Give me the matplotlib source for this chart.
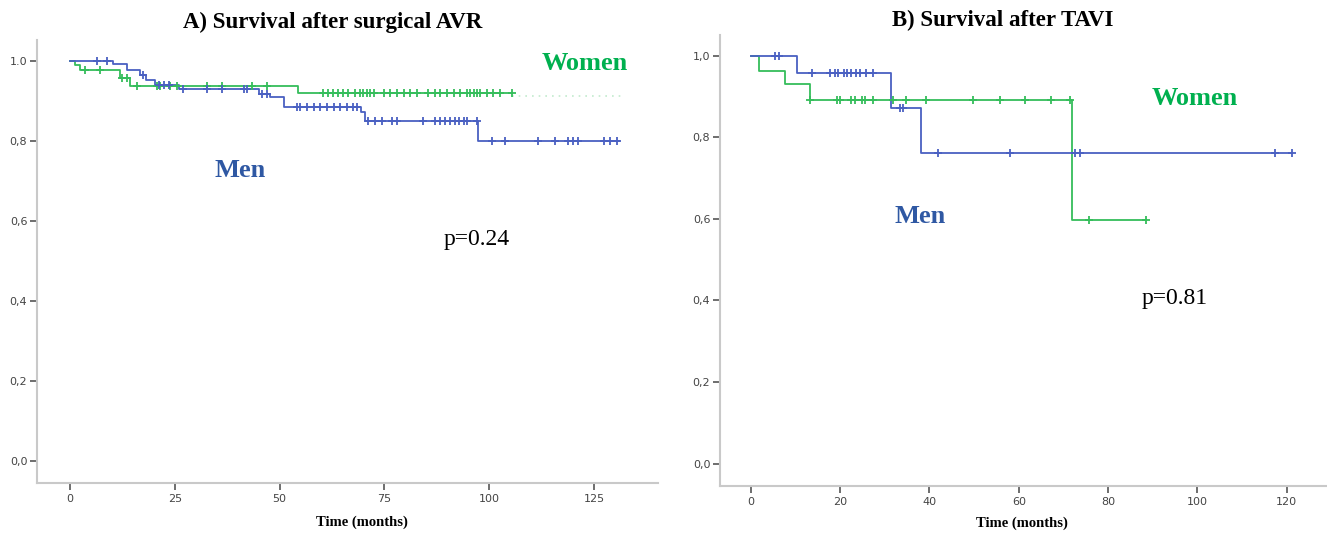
import numpy as np
import matplotlib
matplotlib.use("Agg")
import matplotlib.pyplot as plt

# ── Data ──────────────────────────────────────────────────────────────────────
# Panel A: surgical AVR (step times in months, survival after each step)
avr_men_steps = [0, 10.2, 13.6, 16.7, 18.1, 20.3, 26.0, 45.0, 47.7, 51.0, 69.5, 70.3, 97.4]
avr_men_surv = [1.0, 0.992, 0.977, 0.965, 0.952, 0.940, 0.930, 0.918, 0.910, 0.885, 0.872, 0.850, 0.800]
avr_men_end = 131
avr_men_censor = [6.4, 8.7, 17.5, 21.1, 22.3, 23.5, 27.0, 32.6, 36.2, 41.4, 42.2, 45.7,
                  46.9, 54.1, 54.9, 56.5, 58.1, 59.7, 61.3, 62.9, 64.4, 66.0, 67.6, 68.5,
                  71.2, 72.8, 74.4, 76.8, 78.0, 84.3, 87.1, 88.3, 89.5, 90.7, 91.9, 92.7,
                  93.9, 94.7, 97.1, 100.6, 103.8, 111.7, 115.7, 118.9, 120.1, 121.3,
                  127.3, 128.9, 130.5]

avr_women_steps = [0, 1.2, 2.4, 12.0, 14.3, 54.4]
avr_women_surv = [1.0, 0.990, 0.976, 0.957, 0.937, 0.920]
avr_women_end = 105.4
avr_women_censor = [3.6, 7.2, 12.3, 13.5, 15.9, 20.7, 21.5, 23.9, 25.5, 32.6, 36.2, 43.4,
                    46.9, 60.4, 61.6, 62.8, 64.0, 65.2, 66.4, 68.0, 69.2, 70.0, 70.8,
                    71.6, 72.4, 74.8, 76.4, 78.0, 79.6, 81.1, 82.7, 85.5, 87.1, 88.3,
                    89.9, 91.5, 93.1, 94.7, 95.5, 96.3, 97.1, 97.9, 99.4, 101.0, 102.6,
                    105.4]
avr_women_faint = [105.4, 132]

# Panel B: TAVI
tavi_men_steps = [0, 10.4, 31.3, 38.2]
tavi_men_surv = [1.0, 0.957, 0.872, 0.762]
tavi_men_end = 121.1
tavi_men_censor = [5.4, 6.3, 13.6, 17.7, 18.8, 19.6, 20.8, 21.6, 22.5, 23.5, 24.5, 25.7,
                   27.4, 33.4, 34.1, 41.9, 58.0, 72.5, 73.6, 117.3, 121.1]

tavi_women_steps = [0, 1.9, 7.6, 13.2, 72.0]
tavi_women_surv = [1.0, 0.964, 0.930, 0.892, 0.597]
tavi_women_end = 88.4
tavi_women_censor = [13.2, 19.2, 19.9, 22.5, 23.3, 24.8, 25.5, 27.4, 31.9, 34.8, 39.3,
                     49.8, 55.7, 61.3, 67.3, 71.4, 75.7, 88.4]

yticks = [0.0, 0.2, 0.4, 0.6, 0.8, 1.0]
avr_ylabels = ["0,0", "0,2", "0,4", "0,6", "0,8", "1.0"]
tavi_ylabels = ["0,0", "0,2", "0,4", "0,6", "0,8", "1,0"]
avr_xticks = [0, 25, 50, 75, 100, 125]
tavi_xticks = [0, 20, 40, 60, 80, 100, 120]

# ── Styling ───────────────────────────────────────────────────────────────────
GREEN = "#35BD5B"
BLUE = "#4A60C2"
GREEN_TXT = "#00B04F"
BLUE_TXT = "#2F58A3"
SERIF = "Liberation Serif"


def km_line(ax, steps, surv, end, censor, color):
    x = list(steps) + [end]
    y = list(surv) + [surv[-1]]
    ax.step(x, y, where="post", color=color, lw=1.3, zorder=3)
    cy = [surv[np.searchsorted(steps, c, side="right") - 1] for c in censor]
    ax.plot(censor, cy, ls="none", marker="+", ms=5.5, mew=1.3, color=color, zorder=4)


def style_axes(ax, xlim, xticks, ylabels):
    ax.set_xlim(*xlim)
    ax.set_ylim(-0.055, 1.052)
    ax.set_xticks(xticks)
    ax.set_xticklabels([str(t) for t in xticks])
    ax.set_yticks(yticks)
    ax.set_yticklabels(ylabels)
    for s in ["top", "right"]:
        ax.spines[s].set_visible(False)
    for s in ["left", "bottom"]:
        ax.spines[s].set_color("#C9C9C9")
        ax.spines[s].set_linewidth(1.5)
    ax.tick_params(axis="both", direction="out", length=5, width=1.2,
                   color="#555555", labelcolor="#444444", labelsize=8)
    ax.tick_params(axis="x", pad=3)
    ax.tick_params(axis="y", pad=2)


fig = plt.figure(figsize=(13.27, 5.36), dpi=100)
axA = fig.add_axes([0.0279, 0.0989, 0.4680, 0.8265])
axB = fig.add_axes([0.5426, 0.0933, 0.4574, 0.8420])

# Panel A
km_line(axA, avr_women_steps, avr_women_surv, avr_women_end, avr_women_censor, GREEN)
km_line(axA, avr_men_steps, avr_men_surv, avr_men_end, avr_men_censor, BLUE)
axA.plot(avr_women_faint, [0.912, 0.912], color=GREEN, lw=1.2, ls=(0, (1, 3)), alpha=0.3)
style_axes(axA, (-7.9, 140.3), avr_xticks, avr_ylabels)
axA.text(133, 0.993, "Women", color=GREEN_TXT, fontsize=19, fontweight="bold",
         family=SERIF, ha="right", va="center")
axA.text(40.5, 0.727, "Men", color=BLUE_TXT, fontsize=19, fontweight="bold",
         family=SERIF, ha="center", va="center")
axA.text(97, 0.553, "p=0.24", color="black", fontsize=17, family=SERIF,
         ha="center", va="center")

# Panel B
km_line(axB, tavi_women_steps, tavi_women_surv, tavi_women_end, tavi_women_censor, GREEN)
km_line(axB, tavi_men_steps, tavi_men_surv, tavi_men_end, tavi_men_censor, BLUE)
style_axes(axB, (-6.9, 129), tavi_xticks, tavi_ylabels)
axB.text(99.5, 0.896, "Women", color=GREEN_TXT, fontsize=19, fontweight="bold",
         family=SERIF, ha="center", va="center")
axB.text(37.8, 0.606, "Men", color=BLUE_TXT, fontsize=19, fontweight="bold",
         family=SERIF, ha="center", va="center")
axB.text(95, 0.404, "p=0.81", color="black", fontsize=17, family=SERIF,
         ha="center", va="center")

# Titles and axis labels
fig.text(333 / 1327, 1 - 22 / 536, "A) Survival after surgical AVR", family=SERIF,
         fontsize=16.5, fontweight="bold", ha="center", va="center")
fig.text(1003 / 1327, 1 - 20 / 536, "B) Survival after TAVI", family=SERIF,
         fontsize=16.5, fontweight="bold", ha="center", va="center")
fig.text(362 / 1327, 1 - 522 / 536, "Time (months)", family=SERIF,
         fontsize=10.5, fontweight="bold", ha="center", va="center")
fig.text(1022 / 1327, 1 - 523 / 536, "Time (months)", family=SERIF,
         fontsize=10.5, fontweight="bold", ha="center", va="center")

fig.savefig("out.png", dpi=100)
